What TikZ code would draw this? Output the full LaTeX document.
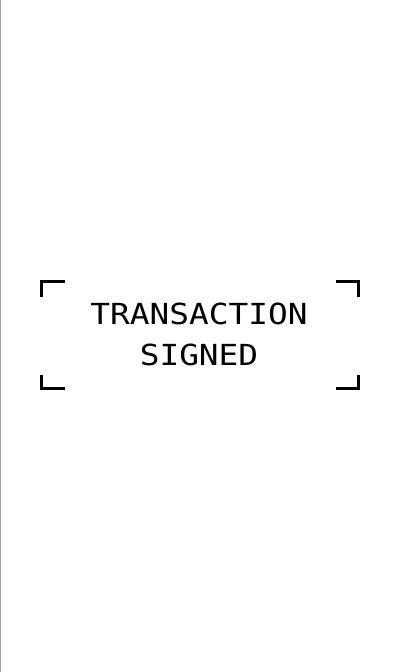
\documentclass[tikz,border=0pt]{standalone}
\usepackage{fontspec}
\setmonofont[FakeStretch=1.13]{DejaVu Sans Mono}
\begin{document}
\begin{tikzpicture}[x=1pt,y=1pt,
  bracket/.style={line width=3pt,line cap=butt,black},
  label/.style={font=\ttfamily\fontsize{29}{40}\selectfont,anchor=base,inner sep=0pt}]
\useasboundingbox (0,0) rectangle (400,672);
\fill[white] (0,0) rectangle (400,672);
\draw[line width=1pt,color=black!35] (0.5,0) -- (0.5,672);
% corner brackets
\coordinate (tl) at (41.5,390.5);
\coordinate (tr) at (358.5,390.5);
\coordinate (bl) at (41.5,283.5);
\coordinate (br) at (358.5,283.5);
\draw[bracket] ([yshift=-16pt]tl) -- (tl) -- ([xshift=23pt]tl);
\draw[bracket] ([yshift=-16pt]tr) -- (tr) -- ([xshift=-23pt]tr);
\draw[bracket] ([yshift=13pt]bl) -- (bl) -- ([xshift=23pt]bl);
\draw[bracket] ([yshift=13pt]br) -- (br) -- ([xshift=-23pt]br);
\node[label] (l1) at (199,347.5) {TRANSACTION};
\node[label] (l2) at (199,306.5) {SIGNED};
\end{tikzpicture}
\end{document}
